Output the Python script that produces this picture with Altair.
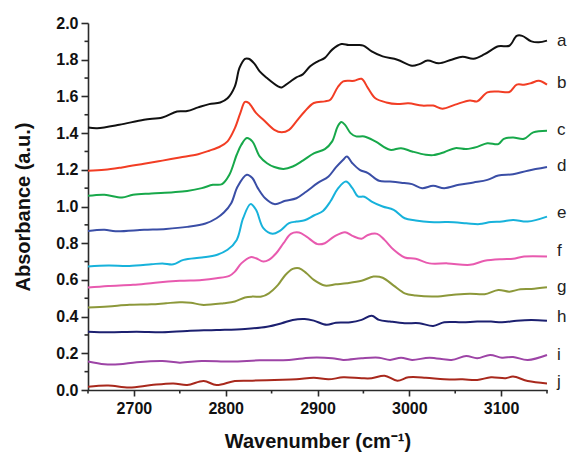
import altair as alt
import pandas as pd

# ---- data ----
a_x = [2650, 2660, 2684, 2711, 2731, 2747, 2758, 2770, 2782, 2794, 2802, 2810, 2815, 2821, 2825, 2831, 2837, 2845, 2857, 2861, 2869, 2877, 2884, 2892, 2900, 2908, 2916, 2926, 2934, 2944, 2950, 2959, 2971, 2987, 3003, 3011, 3020, 3032, 3046, 3058, 3070, 3082, 3097, 3109, 3117, 3123, 3133, 3141, 3150]
a_y = [1.431, 1.427, 1.445, 1.473, 1.485, 1.518, 1.52, 1.54, 1.558, 1.567, 1.59, 1.655, 1.755, 1.805, 1.805, 1.78, 1.736, 1.70, 1.655, 1.649, 1.676, 1.704, 1.72, 1.764, 1.79, 1.81, 1.855, 1.885, 1.88, 1.88, 1.877, 1.845, 1.818, 1.80, 1.767, 1.776, 1.795, 1.78, 1.80, 1.816, 1.805, 1.83, 1.873, 1.876, 1.93, 1.93, 1.90, 1.895, 1.904]

b_x = [2650, 2668, 2687, 2711, 2731, 2750, 2770, 2782, 2794, 2802, 2810, 2816, 2821, 2825, 2833, 2841, 2853, 2861, 2869, 2877, 2886, 2896, 2908, 2914, 2922, 2928, 2940, 2948, 2955, 2963, 2975, 2987, 2999, 3014, 3026, 3036, 3050, 3066, 3074, 3085, 3097, 3109, 3117, 3125, 3133, 3141, 3150]
b_y = [1.195, 1.2, 1.213, 1.233, 1.25, 1.267, 1.285, 1.304, 1.327, 1.355, 1.427, 1.51, 1.57, 1.565, 1.51, 1.473, 1.418, 1.405, 1.418, 1.464, 1.518, 1.564, 1.573, 1.582, 1.65, 1.682, 1.685, 1.696, 1.645, 1.59, 1.567, 1.558, 1.562, 1.55, 1.55, 1.533, 1.555, 1.578, 1.573, 1.622, 1.627, 1.624, 1.664, 1.664, 1.673, 1.685, 1.664]

c_x = [2650, 2668, 2687, 2699, 2719, 2743, 2758, 2774, 2786, 2796, 2804, 2812, 2817, 2823, 2829, 2837, 2845, 2853, 2863, 2873, 2884, 2896, 2908, 2916, 2922, 2926, 2930, 2936, 2942, 2951, 2963, 2979, 2991, 3003, 3018, 3026, 3038, 3050, 3062, 3074, 3085, 3097, 3103, 3113, 3125, 3135, 3150]
c_y = [1.058, 1.064, 1.049, 1.064, 1.071, 1.078, 1.085, 1.1, 1.118, 1.122, 1.173, 1.282, 1.336, 1.373, 1.355, 1.273, 1.236, 1.215, 1.205, 1.218, 1.25, 1.29, 1.313, 1.355, 1.436, 1.46, 1.445, 1.40, 1.382, 1.382, 1.355, 1.309, 1.318, 1.30, 1.282, 1.28, 1.296, 1.318, 1.313, 1.325, 1.345, 1.34, 1.369, 1.376, 1.369, 1.404, 1.413]

d_x = [2650, 2668, 2680, 2711, 2735, 2758, 2778, 2790, 2798, 2806, 2813, 2823, 2829, 2835, 2843, 2853, 2865, 2877, 2888, 2900, 2912, 2920, 2928, 2932, 2938, 2946, 2955, 2967, 2979, 2991, 3003, 3014, 3026, 3038, 3054, 3070, 3085, 3097, 3113, 3129, 3150]
d_y = [0.867, 0.873, 0.865, 0.873, 0.878, 0.889, 0.907, 0.936, 0.967, 1.018, 1.109, 1.173, 1.155, 1.10, 1.045, 1.013, 1.031, 1.045, 1.082, 1.127, 1.164, 1.213, 1.255, 1.273, 1.236, 1.20, 1.182, 1.14, 1.136, 1.13, 1.122, 1.10, 1.113, 1.10, 1.118, 1.131, 1.145, 1.169, 1.176, 1.195, 1.215]

e_x = [2650, 2672, 2695, 2719, 2731, 2743, 2754, 2774, 2790, 2802, 2812, 2819, 2827, 2833, 2841, 2851, 2859, 2869, 2877, 2886, 2896, 2906, 2914, 2922, 2931, 2938, 2944, 2951, 2959, 2971, 2983, 2995, 3007, 3022, 3042, 3062, 3076, 3089, 3101, 3113, 3129, 3150]
e_y = [0.673, 0.678, 0.676, 0.685, 0.69, 0.685, 0.709, 0.722, 0.736, 0.764, 0.818, 0.936, 1.013, 0.982, 0.882, 0.851, 0.867, 0.909, 0.918, 0.925, 0.951, 0.976, 1.027, 1.096, 1.136, 1.10, 1.055, 1.053, 1.027, 1.0, 0.982, 0.936, 0.924, 0.915, 0.915, 0.909, 0.904, 0.915, 0.918, 0.927, 0.918, 0.945]

f_x = [2650, 2672, 2699, 2723, 2750, 2774, 2790, 2804, 2810, 2817, 2827, 2833, 2841, 2847, 2855, 2863, 2871, 2880, 2888, 2900, 2908, 2918, 2930, 2938, 2948, 2955, 2965, 2973, 2983, 2995, 3007, 3022, 3042, 3066, 3082, 3101, 3113, 3125, 3150]
f_y = [0.558, 0.567, 0.573, 0.585, 0.595, 0.60, 0.609, 0.622, 0.645, 0.69, 0.724, 0.718, 0.70, 0.709, 0.745, 0.80, 0.851, 0.858, 0.836, 0.795, 0.80, 0.836, 0.86, 0.84, 0.824, 0.845, 0.851, 0.818, 0.764, 0.722, 0.715, 0.69, 0.69, 0.682, 0.704, 0.713, 0.715, 0.727, 0.727]

g_x = [2650, 2672, 2695, 2719, 2735, 2750, 2762, 2774, 2798, 2810, 2821, 2829, 2839, 2847, 2857, 2865, 2873, 2880, 2888, 2896, 2908, 2920, 2932, 2948, 2961, 2971, 2983, 2995, 3007, 3026, 3046, 3066, 3082, 3097, 3109, 3121, 3133, 3150]
g_y = [0.449, 0.455, 0.464, 0.467, 0.473, 0.478, 0.476, 0.464, 0.473, 0.482, 0.504, 0.509, 0.509, 0.527, 0.573, 0.627, 0.66, 0.664, 0.636, 0.60, 0.569, 0.576, 0.582, 0.595, 0.618, 0.612, 0.569, 0.527, 0.515, 0.509, 0.518, 0.525, 0.522, 0.545, 0.536, 0.549, 0.551, 0.56]

h_x = [2650, 2672, 2703, 2731, 2758, 2790, 2821, 2845, 2861, 2873, 2886, 2896, 2910, 2920, 2936, 2948, 2959, 2967, 2979, 2995, 3011, 3026, 3038, 3058, 3074, 3089, 3101, 3117, 3133, 3150]
h_y = [0.318, 0.315, 0.318, 0.315, 0.322, 0.327, 0.333, 0.345, 0.364, 0.382, 0.387, 0.378, 0.355, 0.367, 0.369, 0.382, 0.404, 0.382, 0.373, 0.364, 0.364, 0.349, 0.369, 0.369, 0.373, 0.373, 0.369, 0.378, 0.382, 0.378]

i_x = [2650, 2668, 2684, 2703, 2731, 2750, 2774, 2806, 2837, 2869, 2892, 2916, 2928, 2948, 2967, 2979, 2991, 3003, 3022, 3046, 3062, 3074, 3088, 3101, 3113, 3129, 3150]
i_y = [0.155, 0.14, 0.14, 0.151, 0.158, 0.149, 0.158, 0.155, 0.162, 0.164, 0.176, 0.173, 0.164, 0.173, 0.176, 0.164, 0.176, 0.164, 0.176, 0.164, 0.185, 0.173, 0.191, 0.176, 0.18, 0.164, 0.191]

j_x = [2650, 2672, 2695, 2719, 2743, 2758, 2776, 2790, 2810, 2829, 2853, 2877, 2896, 2912, 2928, 2948, 2959, 2973, 2987, 2999, 3018, 3038, 3058, 3074, 3089, 3105, 3113, 3129, 3150]
j_y = [0.018, 0.024, 0.013, 0.027, 0.036, 0.027, 0.049, 0.027, 0.049, 0.051, 0.055, 0.058, 0.067, 0.058, 0.069, 0.064, 0.064, 0.078, 0.051, 0.069, 0.067, 0.058, 0.058, 0.055, 0.069, 0.064, 0.073, 0.049, 0.036]

series_names = ["a", "b", "c", "d", "e", "f", "g", "h", "i", "j"]
series_colors = ["#111111", "#f23d24", "#17a84a", "#3a4ea6", "#17b2db", "#e85aaf", "#8c983a", "#1c2070", "#9d44a6", "#a8281c"]
label_y = [1.90, 1.673, 1.418, 1.218, 0.964, 0.755, 0.564, 0.396, 0.191, 0.042]

x_major = [2700, 2800, 2900, 3000, 3100]
x_minor = [2650, 2750, 2850, 2950, 3050, 3150]
y_major = [0.0, 0.2, 0.4, 0.6, 0.8, 1.0, 1.2, 1.4, 1.6, 1.8, 2.0]
y_minor = [0.1, 0.3, 0.5, 0.7, 0.9, 1.1, 1.3, 1.5, 1.7, 1.9]

xs = [a_x, b_x, c_x, d_x, e_x, f_x, g_x, h_x, i_x, j_x]
ys = [a_y, b_y, c_y, d_y, e_y, f_y, g_y, h_y, i_y, j_y]

rows = []
for name, sx, sy in zip(series_names, xs, ys):
    for xv, yv in zip(sx, sy):
        rows.append({"s": name, "x": xv, "y": yv})
df = pd.DataFrame(rows)
labels_df = pd.DataFrame({"s": series_names, "x": [3150] * 10, "y": label_y})
xminor_df = pd.DataFrame({"x": x_minor})
yminor_df = pd.DataFrame({"y": y_minor})

FONT = "Liberation Sans"
AX = "#2a2a2a"
W, H = 459, 367
xscale = alt.Scale(domain=[2650, 3150], nice=False, zero=False)
yscale = alt.Scale(domain=[0, 2.0], nice=False, zero=False)
color = alt.Color("s:N", scale=alt.Scale(domain=series_names, range=series_colors), legend=None)

x_axis = alt.Axis(
    values=x_major, title="Wavenumber (cm⁻¹)", grid=False, tickSize=6,
    tickColor=AX, tickWidth=1.6, domainColor=AX, domainWidth=1.6,
    labelFontSize=16, labelFontWeight="bold", labelFont=FONT, labelColor="#111",
    labelPadding=4, titleFont=FONT, titleFontSize=20, titleFontWeight="bold",
    titleColor="#111", titlePadding=15, format="d", orient="bottom",
)
y_axis = alt.Axis(
    values=y_major, title="Absorbance (a.u.)", grid=False, tickSize=7,
    tickColor=AX, tickWidth=1.6, domainColor=AX, domainWidth=1.6,
    labelFontSize=16, labelFontWeight="bold", labelFont=FONT, labelColor="#111",
    labelPadding=3, titleFont=FONT, titleFontSize=20, titleFontWeight="bold",
    titleColor="#111", titlePadding=22, format=".1f", labelOverlap=False, orient="left",
)

lines = alt.Chart(df).mark_line(strokeWidth=2, interpolate="catmull-rom").encode(
    x=alt.X("x:Q", scale=xscale, axis=x_axis),
    y=alt.Y("y:Q", scale=yscale, axis=y_axis),
    color=color,
    detail="s:N",
)

# minor ticks (half-way between labelled ticks)
xminor = alt.Chart(xminor_df).mark_rule(color=AX, strokeWidth=1.6).encode(
    x=alt.X("x:Q", scale=xscale, axis=None),
    y=alt.value(H), y2=alt.value(H + 3.5),
)
yminor = alt.Chart(yminor_df).mark_rule(color=AX, strokeWidth=1.6).encode(
    y=alt.Y("y:Q", scale=yscale, axis=None),
    x=alt.value(-3.5), x2=alt.value(0),
)

texts = alt.Chart(labels_df).mark_text(align="left", baseline="middle", dx=10, fontSize=17,
                                       font=FONT, color="#222").encode(
    x=alt.X("x:Q", scale=xscale, axis=None),
    y=alt.Y("y:Q", scale=yscale, axis=None),
    text="s:N",
)

chart = alt.layer(lines, xminor, yminor, texts).resolve_axis(
    x="independent", y="independent"
).properties(
    width=W, height=H,
    autosize=alt.AutoSizeParams(type="none"),
    padding={"left": 88, "top": 23, "right": 20, "bottom": 65},
).configure_view(stroke=None)

chart.save("out.html", embed_options={"renderer": "svg", "actions": False})
